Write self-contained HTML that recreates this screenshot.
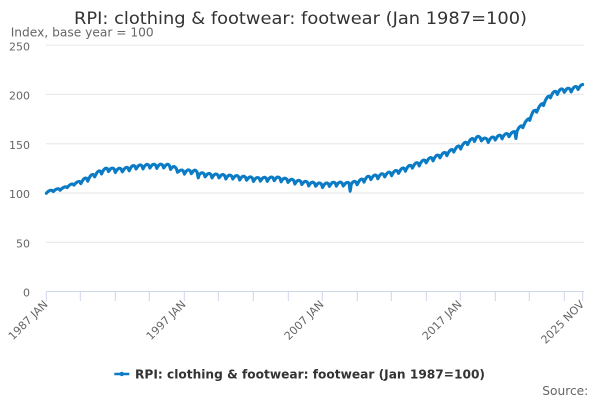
<!DOCTYPE html>
<html>
<head>
<meta charset="utf-8">
<style>
html,body{margin:0;padding:0;background:#fff;}
svg{display:block;}
text{font-family:"DejaVu Sans","Liberation Sans",sans-serif;}
</style>
</head>
<body>
<svg id="c" width="600" height="400" viewBox="0 0 600 400" xmlns="http://www.w3.org/2000/svg">
<rect width="600" height="400" fill="#fff"/>
<text x="300.5" y="24" font-size="17" fill="#333" text-anchor="middle" textLength="453" lengthAdjust="spacingAndGlyphs">RPI: clothing &amp; footwear: footwear (Jan 1987=100)</text>
<text x="10.7" y="36.7" font-size="12.5" fill="#666" textLength="143" lengthAdjust="spacingAndGlyphs">Index, base year = 100</text>
<g stroke="#e6e6e6" stroke-width="1">
<line x1="46" y1="45.1" x2="584" y2="45.1"/>
<line x1="46" y1="94.4" x2="584" y2="94.4"/>
<line x1="46" y1="143.7" x2="584" y2="143.7"/>
<line x1="46" y1="193.0" x2="584" y2="193.0"/>
<line x1="46" y1="242.2" x2="584" y2="242.2"/>
</g>
<g font-size="11" fill="#666" text-anchor="end">
<text x="30" y="50.3">250</text>
<text x="30" y="99.6">200</text>
<text x="30" y="148.9">150</text>
<text x="30" y="198.2">100</text>
<text x="30" y="247.4">50</text>
<text x="30" y="296.7">0</text>
</g>
<line x1="46" y1="291.5" x2="584" y2="291.5" stroke="#ccd6eb" stroke-width="1"/>
<g stroke="#ccd6eb" stroke-width="1" id="ticks"></g>
<g font-size="11" fill="#666" text-anchor="end">
<text transform="translate(48.5,305) rotate(-45)">1987 JAN</text>
<text transform="translate(186.5,305) rotate(-45)">1997 JAN</text>
<text transform="translate(324.5,305) rotate(-45)">2007 JAN</text>
<text transform="translate(462.5,305) rotate(-45)">2017 JAN</text>
<text transform="translate(585,305) rotate(-45)">2025 NOV</text>
</g>
<polyline id="fb" fill="none" stroke="#0a7bc4" stroke-width="3" stroke-linejoin="round" points="46,192 53,190.5 63,188.3 72,184.5 80,181.7 88,178.3 97,173.3 102,171 107,169.2 117,169.8 124,169.5 133,167 147,165.8 160,165.6 168,165.7 174,167.8 180,171.5 187,171.3 195,171.5 200,174 210,175 223,176 240,177.3 257,179 277,178.3 290,180.5 307,183 323,184.8 337,183.3 346,184 357,182.5 367,178 383,175 397,171.7 410,166.7 423,161.7 437,156.7 450,151.7 463,145 470,141 477,137.5 487,140 500,136.5 513,133.5 520,128 527,121.5 533,113 540,107 545,101 552,94 560,90.5 570,89.5 577,87.5 583,85.5"/>
<path id="ln" fill="none" stroke="#0a7bc4" stroke-width="3.1" stroke-linejoin="round" stroke-linecap="round" d=""/>
<line x1="114.3" y1="374" x2="129.3" y2="374" stroke="#0a7bc4" stroke-width="2.5"/>
<circle cx="121.8" cy="374" r="2.2" fill="#0a7bc4"/>
<text x="135" y="378.3" font-size="12.5" font-weight="bold" fill="#333" textLength="350" lengthAdjust="spacingAndGlyphs">RPI: clothing &amp; footwear: footwear (Jan 1987=100)</text>
<text x="542.3" y="395" font-size="12" fill="#666" textLength="46" lengthAdjust="spacingAndGlyphs">Source:</text>
</svg>
<script>
(function(){
var NS="http://www.w3.org/2000/svg";
var tx=[46.3,80.3,115.3,149.3,184.3,218.3,253.3,288.3,322.3,357.3,391.3,426.3,460.3,495.3,529.3,564.3,582.7];
var tg=document.getElementById("ticks");
tx.forEach(function(x){var l=document.createElementNS(NS,"line");l.setAttribute("x1",x);l.setAttribute("x2",x);l.setAttribute("y1",291.5);l.setAttribute("y2",301);tg.appendChild(l);});
var A=[[46,192],[53,190.5],[63,188.3],[72,184.5],[80,181.7],[88,178.3],[97,173.3],[102,171],[107,169.2],[117,169.8],[124,169.5],[133,167],[147,165.8],[160,165.6],[168,165.7],[174,167.8],[180,171.5],[187,171.3],[195,171.5],[200,174],[210,175],[223,176],[240,177.3],[257,179],[277,178.3],[290,180.5],[307,183],[323,184.8],[337,183.3],[346,184],[357,182.5],[367,178],[383,175],[397,171.7],[410,166.7],[423,161.7],[437,156.7],[450,151.7],[463,145],[470,141],[477,137.5],[487,140],[500,136.5],[513,133.5],[520,128],[527,121.5],[533,113],[540,107],[545,101],[552,94],[560,90.5],[570,89.5],[577,87.5],[584,85.5]];
function ty(x){
 if(x<=A[0][0])return A[0][1];
 for(var i=1;i<A.length;i++){if(x<=A[i][0]){var t=(x-A[i-1][0])/(A[i][0]-A[i-1][0]);return A[i-1][1]+t*(A[i][1]-A[i-1][1]);}}
 return A[A.length-1][1];
}
var seas=[2.2,0.6,-0.5,-1.1,-1.1,-0.5,1.8,0.6,-0.6,-1.1,-1.1,-0.4];
var d="";
for(var i=0;i<=466;i++){
 var x=46.3+i*1.151;
 var amp=(i<30)?0.6:1.25;
 var y=ty(x)+seas[i%12]*amp;
 if(i==264)y+=5;
 if(i==408)y+=4.5;
 if(i==132)y+=2;
 d+=(i?"L":"M")+x.toFixed(2)+","+y.toFixed(2);
}
document.getElementById("ln").setAttribute("d",d);
var fb=document.getElementById("fb");fb.parentNode.removeChild(fb);
})();
</script>
</body>
</html>
